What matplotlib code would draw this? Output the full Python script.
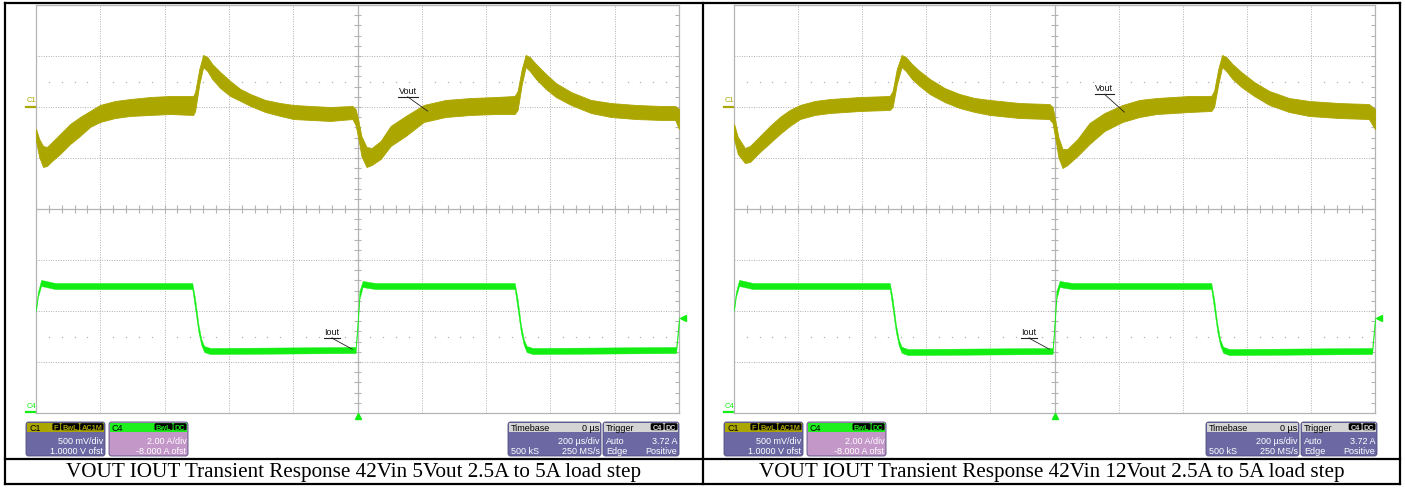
import matplotlib
matplotlib.use("Agg")
import matplotlib.pyplot as plt
from matplotlib.patches import FancyBboxPatch, Rectangle
import numpy as np

W, H = 1405, 489

# scope settings
t_span = (-1000, 1000)      # us, 200 us/div, trigger at centre
v_div, v_ref = 500.0, 2.0   # C1: mV/div, zero level in div
i_div, i_ref = 2.0, -4.0    # C4: A/div, zero level in div
trig_level = 3.72           # A

captions = ["VOUT IOUT Transient Response 42Vin 5Vout 2.5A to 5A load step",
            "VOUT IOUT Transient Response 42Vin 12Vout 2.5A to 5A load step"]

# 5Vout capture: Vout band (mV, ac coupled), Iout band (A)
vout5_t = [-1000, -990, -978, -966, -950, -925, -894, -863, -832, -801, -754, -707, -645, -583,
           -511, -505, -492, -480, -467, -452, -427, -396, -364, -333, -287, -240, -199, -146,
           -84, -16, -6, 3, 12, 28, 44, 72, 103, 150, 206, 274, 352, 430, 489, 498, 511, 523,
           536, 555, 586, 617, 664, 726, 788, 866, 944, 988, 1000]
vout5_hi = [-215, -314, -382, -392, -343, -265, -167, -98, -39, 20, 59, 78, 98, 108, 108, 147,
            373, 510, 490, 422, 343, 255, 176, 127, 69, 39, 20, 10, 0, 10, -20, -137, -284,
            -392, -402, -333, -186, -88, 20, 69, 88, 98, 108, 157, 373, 510, 490, 422, 324,
            235, 147, 69, 39, 20, 10, 10, -20]
vout5_lo = [-335, -490, -588, -578, -529, -461, -363, -284, -196, -147, -108, -88, -78, -69,
            -78, -39, 225, 392, 353, 275, 186, 108, 59, 10, -49, -88, -118, -127, -137, -118,
            -176, -314, -480, -588, -569, -510, -382, -284, -147, -98, -78, -69, -69, -29, 225,
            392, 353, 275, 176, 98, 20, -59, -98, -118, -127, -127, -216]

iout_t = [-1000, -994, -984, -969, -941, -514, -505, -495, -486, -477, -458, -6, 0, 6, 16, 34,
          56, 489, 498, 508, 517, 526, 545, 991, 1000]
iout5_hi = [4.16, 4.75, 5.22, 5.18, 5.10, 5.10, 4.47, 3.49, 2.90, 2.63, 2.55, 2.59, 3.61, 4.78,
            5.18, 5.14, 5.10, 5.10, 4.47, 3.49, 2.90, 2.63, 2.55, 2.59, 3.76]
iout5_lo = [4.00, 4.55, 4.98, 4.94, 4.86, 4.86, 4.08, 3.18, 2.67, 2.39, 2.31, 2.35, 3.29, 4.47,
            4.94, 4.90, 4.86, 4.86, 4.08, 3.18, 2.67, 2.39, 2.31, 2.35, 3.53]

# 12Vout capture
vout12_t = [-1000, -988, -966, -950, -919, -888, -857, -826, -794, -748, -701, -607, -514, -505,
            -492, -477, -464, -445, -421, -389, -343, -296, -249, -202, -109, -16, -6, 3, 12, 25,
            40, 72, 109, 156, 212, 265, 318, 421, 489, 498, 511, 523, 536, 555, 583, 623, 670,
            732, 794, 888, 981, 1000]
vout12_hi = [-167, -294, -402, -382, -284, -186, -98, -29, 20, 59, 78, 98, 108, 157, 373, 510,
             490, 422, 353, 275, 186, 127, 88, 69, 39, 29, 0, -137, -294, -412, -412, -314, -157,
             -59, 20, 69, 88, 108, 108, 157, 373, 510, 490, 422, 343, 245, 157, 88, 59, 39, 29, -20]
vout12_lo = [-314, -461, -549, -539, -441, -353, -265, -186, -118, -78, -59, -39, -29, 0, 225,
             392, 353, 275, 206, 127, 49, -10, -49, -78, -108, -118, -157, -314, -490, -598, -569,
             -480, -363, -235, -147, -98, -69, -49, -39, 0, 225, 392, 353, 275, 196, 108, 20, -49,
             -88, -108, -118, -216]
iout12_hi = [4.16, 4.75, 5.22, 5.18, 5.10, 5.10, 4.47, 3.49, 2.88, 2.60, 2.51, 2.55, 3.61, 4.78,
             5.18, 5.14, 5.10, 5.10, 4.47, 3.49, 2.88, 2.60, 2.51, 2.55, 3.76]
iout12_lo = [4.00, 4.55, 4.98, 4.94, 4.86, 4.86, 4.08, 3.18, 2.65, 2.36, 2.27, 2.31, 3.29, 4.47,
             4.94, 4.90, 4.86, 4.86, 4.08, 3.18, 2.65, 2.36, 2.27, 2.31, 3.53]

OLIVE = "#aca600"
GREEN = "#12ee12"
FRAME = "#b4b4b4"
GRID = "#b0b0b0"
BODY = "#6c68a4"
BODY4 = "#c497c9"
SANS = "Liberation Sans"

plt.rcParams["font.family"] = SANS

fig = plt.figure(figsize=(W / 100, H / 100), dpi=100)
bg = fig.add_axes([0, 0, 1, 1])
bg.set_xlim(0, W)
bg.set_ylim(H, 0)
bg.axis("off")


def scope_axes(x0, width):
    ax = fig.add_axes([x0 / W, (H - 414) / H, width / W, 408 / H])
    ax.set_xlim(*t_span)
    ax.set_ylim(-4, 4)
    ax.set_xticks([])
    ax.set_yticks([])
    for s in ax.spines.values():
        s.set_color(FRAME)
        s.set_linewidth(0.9)
    for t in range(-800, 1000, 200):
        if t:
            ax.axvline(t, color=GRID, lw=0.7, ls=(0, (1, 1.5)))
    for d in range(-3, 4):
        if d:
            ax.axhline(d, color=GRID, lw=0.7, ls=(0, (1, 1.5)))
    ax.axvline(0, color=FRAME, lw=0.9)
    ax.axhline(0, color=FRAME, lw=0.9)
    # minor ticks on the centre cross and the right edge
    tt = np.linspace(-1000, 1000, 51)
    dd = np.linspace(-4, 4, 41)
    ax.vlines(tt, -0.07, 0.07, color=FRAME, lw=0.8)
    ax.hlines(dd, -12, 12, color=FRAME, lw=0.8)
    ax.hlines(dd, 988, 1000, color=FRAME, lw=0.8)
    sparse = tt[np.abs(np.round(tt / 200) * 200 - tt) > 1]
    for lvl in (2.5, -2.5):
        ax.plot(sparse, np.full_like(sparse, lvl), ls="none", marker="s", ms=0.9,
                mec="none", mfc=GRID)
    return ax


def band(ax, t, hi, lo, div, ref, color, edge=0.6):
    t = np.asarray(t, float)
    hi_d = ref + np.asarray(hi, float) / div
    lo_d = ref + np.asarray(lo, float) / div
    ax.fill_between(t, lo_d, hi_d, color=color, lw=edge, ec=color, zorder=3)


def tag(ax, text, t_txt, y_txt, t_end, y_end, half):
    ax.text(t_txt, y_txt + 0.04, text, fontsize=6.5, ha="center", va="bottom", color="#111")
    ax.plot([t_txt - half, t_txt + half], [y_txt, y_txt], color="#222", lw=0.8)
    ax.plot([t_txt, t_end], [y_txt, y_end], color="#222", lw=0.6, zorder=4)


def badge(x_right, y, text, fg):
    w = 2.5 + 5.2 * len(text)
    bg.add_patch(FancyBboxPatch((x_right - w, y + 1.2), w, 7.0,
                                boxstyle="round,pad=0,rounding_size=1.5",
                                fc="black", ec="none", zorder=6))
    bg.text(x_right - w / 2, y + 5.2, text, fontsize=5.3, color=fg, ha="center",
            va="center", zorder=7, fontweight="bold")
    return x_right - w - 1


def info_box(x, w, head_fc, body_fc, title, title_right, badges, badge_fg, rows):
    y, h = 423, 34
    bg.add_patch(FancyBboxPatch((x, y), w, h, boxstyle="round,pad=0,rounding_size=2.5",
                                fc=body_fc, ec="#4f4c7c", lw=0.6, zorder=4))
    bg.add_patch(Rectangle((x + 0.6, y + 0.6), w - 1.2, 9.2, fc=head_fc, ec="none", zorder=5))
    bg.text(x + 3, y + 5.3, title, fontsize=6.5, ha="left", va="center", color="black", zorder=7)
    xr = x + w - 1.5
    if title_right:
        bg.text(xr, y + 5.3, title_right, fontsize=6.5, ha="right", va="center",
                color="black", zorder=7)
    for b in reversed(badges):
        xr = badge(xr, y, b, badge_fg)
    for k, (left, right) in enumerate(rows):
        yy = y + 19 + 10 * k
        if left:
            bg.text(x + 3, yy, left, fontsize=6.5, ha="left", va="center", color="white", zorder=7)
        bg.text(x + w - 1.5, yy, right, fontsize=6.5, ha="right", va="center",
                color="white", zorder=7)


panels = [
    (36, 643, vout5_t, vout5_hi, vout5_lo, iout5_hi, iout5_lo, (156, 2.2, 218, 1.92)),
    (734, 641, vout12_t, vout12_hi, vout12_lo, iout12_hi, iout12_lo, (156, 2.25, 218, 1.90)),
]

for k, (x0, wd, vt, vhi, vlo, ihi, ilo, vtag) in enumerate(panels):
    ax = scope_axes(x0, wd)
    band(ax, vt, vhi, vlo, v_div, v_ref, OLIVE)
    band(ax, iout_t, ihi, ilo, i_div, i_ref, GREEN, edge=0.3)
    tag(ax, "Vout", vtag[0], vtag[1], vtag[2], vtag[3], 31)
    tag(ax, "Iout", -80, -2.53, -16, i_ref + 2.5 / i_div, 25)
    # trigger position and level markers
    ax.plot(0, -4.06, marker="^", ms=4.5, color=GREEN, mec=GREEN, clip_on=False, zorder=6)
    ax.plot(1012, i_ref + trig_level / i_div, marker="<", ms=4.5, color=GREEN, mec=GREEN,
            clip_on=False, zorder=6)

    # channel markers left of the grid
    bg.text(x0 - 9, 101, "C1", fontsize=5.5, color=OLIVE, ha="left", va="center")
    bg.plot([x0 - 10, x0 - 1], [108, 108], color=OLIVE, lw=1.6)
    bg.text(x0 - 9, 406, "C4", fontsize=5.5, color=GREEN, ha="left", va="center")
    bg.plot([x0 - 10, x0 - 1], [413, 413], color=GREEN, lw=1.6)

    # LeCroy logo
    xr = x0 + wd - 2
    bg.text(xr, 14, "LeCroy", fontsize=8.5, color="#505050", ha="right", va="center")
    bg.plot([xr - 44, xr], [20, 20], color="#505050", lw=0.9)

    # readout boxes
    off = x0 - 36
    info_box(26 + off, 79, OLIVE, BODY, "C1", None, ["F", "BwL", "AC1M"], OLIVE,
             [(None, "500 mV/div"), (None, "1.0000 V ofst")])
    info_box(109 + off, 79, "#1ef01e", BODY4, "C4", None, ["BwL", "DC"], "#1ef01e",
             [(None, "2.00 A/div"), (None, "-8.000 A ofst")])
    info_box(508 + off, 93, "#d4d4d4", BODY, "Timebase", "0 \u00b5s", [], None,
             [(None, "200 \u00b5s/div"), ("500 kS", "250 MS/s")])
    info_box(603 + off, 76, "#d4d4d4", BODY, "Trigger", None, ["C4", "DC"], "#d8d8d8",
             [("Auto", "3.72 A"), ("Edge", "Positive")])

# table borders and captions
for xx in (5, 703, 1400):
    bg.plot([xx, xx], [4, 485], color="black", lw=1.6, solid_capstyle="projecting")
for yy in (4, 460, 485):
    bg.plot([5, 1400], [yy, yy], color="black", lw=1.6, solid_capstyle="projecting")
bg.text(354, 473, captions[0], fontsize=15.2, family="Liberation Serif", ha="center", va="center")
bg.text(1051.5, 473, captions[1], fontsize=15.2, family="Liberation Serif", ha="center",
        va="center")

fig.savefig("out.png", dpi=100)
